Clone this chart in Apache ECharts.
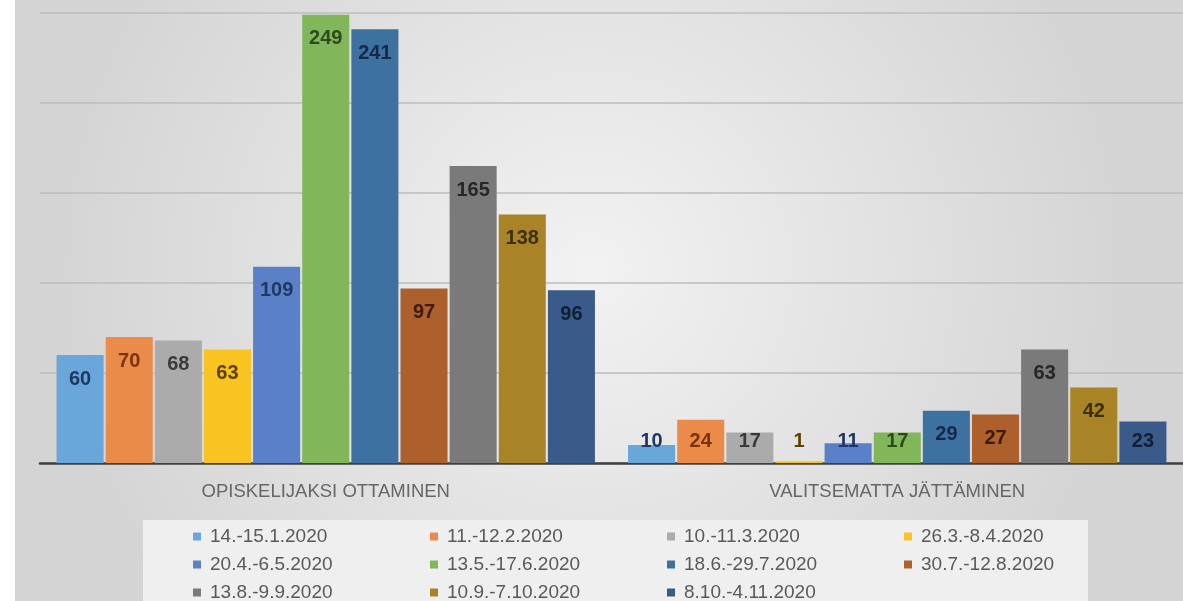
<!DOCTYPE html>
<html>
<head>
<meta charset="utf-8">
<script src="https://cdn.jsdelivr.net/npm/echarts@6/dist/echarts.min.js"></script>
<style>
html,body{margin:0;padding:0;background:#fff;}
#chart{width:1183px;height:601px;}
</style>
</head>
<body>
<div id="chart"></div>
<script>
var categories = ['OPISKELIJAKSI OTTAMINEN', 'VALITSEMATTA JÄTTÄMINEN'];
var seriesNames = ['14.-15.1.2020','11.-12.2.2020','10.-11.3.2020','26.3.-8.4.2020','20.4.-6.5.2020','13.5.-17.6.2020','18.6.-29.7.2020','30.7.-12.8.2020','13.8.-9.9.2020','10.9.-7.10.2020','8.10.-4.11.2020'];
var opiskelijaksiValues = [60, 70, 68, 63, 109, 249, 241, 97, 165, 138, 96];
var valitsemattaValues = [10, 24, 17, 1, 11, 17, 29, 27, 63, 42, 23];
var yTicks = [0, 50, 100, 150, 200, 250];

var barColors = ['#69a6da','#eb8b4a','#ababab','#f9c322','#5a80c8','#82b65a','#3d72a0','#ad5f2c','#7a7a7a','#a88426','#3a5a8a'];
var labelColors = ['#1f3864','#7a3208','#3a3a3a','#5c4300','#1f3864','#2d4a1a','#16284a','#3d1a05','#262626','#3d2e00','#141e33'];

var FONT = '"Liberation Sans", sans-serif';

var series = seriesNames.map(function (name, i) {
  var vals = [opiskelijaksiValues[i], valitsemattaValues[i]];
  return {
    type: 'bar',
    name: name,
    barGap: '4.4%',
    barCategoryGap: '5.8%',
    itemStyle: { color: barColors[i] },
    label: {
      show: true,
      color: labelColors[i],
      fontWeight: 'bold',
      fontSize: 20,
      fontFamily: FONT
    },
    data: vals.map(function (v) {
      return { value: v, label: { position: v < 25 ? 'insideBottom' : 'insideTop', distance: v < 25 ? 12 : 14 } };
    })
  };
});

var cols = [[0,4,8],[1,5,9],[2,6,10],[3,7]];
var colLeft = [188, 425, 662, 899];
var legends = cols.map(function (idx, c) {
  return {
    orient: 'vertical',
    left: colLeft[c],
    top: 522,
    height: 150,
    itemWidth: 8,
    itemHeight: 8,
    itemGap: 9,
    icon: 'rect',
    selectedMode: false,
    textStyle: { color: '#595959', fontSize: 19, fontFamily: FONT, padding: [0,0,0,4] },
    data: idx.map(function (k) { return seriesNames[k]; })
  };
});

var chart = echarts.init(document.getElementById('chart'));
chart.setOption({
  animation: false,
  backgroundColor: {
    type: 'radial', x: 0.5, y: 0.45, r: 0.9,
    colorStops: [{ offset: 0, color: '#f2f2f2' }, { offset: 1, color: '#d4d4d4' }]
  },
  graphic: [
    { type: 'rect', left: 0, top: 0, shape: { width: 15, height: 601 }, style: { fill: '#ffffff' }, z: -1 },
    { type: 'rect', left: 143, top: 520, shape: { width: 945, height: 90 }, style: { fill: '#efefef' }, z: -1 }
  ],
  grid: { left: 40, top: 13, width: 1147, bottom: 138, containLabel: false },
  legend: legends,
  xAxis: {
    type: 'category',
    data: categories,
    axisTick: { show: false },
    axisLine: { lineStyle: { color: '#404040', width: 2.5 } },
    axisLabel: { color: '#666666', fontSize: 18.5, fontFamily: FONT, margin: 19 }
  },
  yAxis: {
    type: 'value',
    min: yTicks[0],
    max: yTicks[yTicks.length - 1],
    interval: 50,
    axisLabel: { show: false },
    axisLine: { show: false },
    axisTick: { show: false },
    splitLine: { lineStyle: { color: '#bcbcbc', width: 1.5 } }
  },
  series: series
});
</script>
</body>
</html>
